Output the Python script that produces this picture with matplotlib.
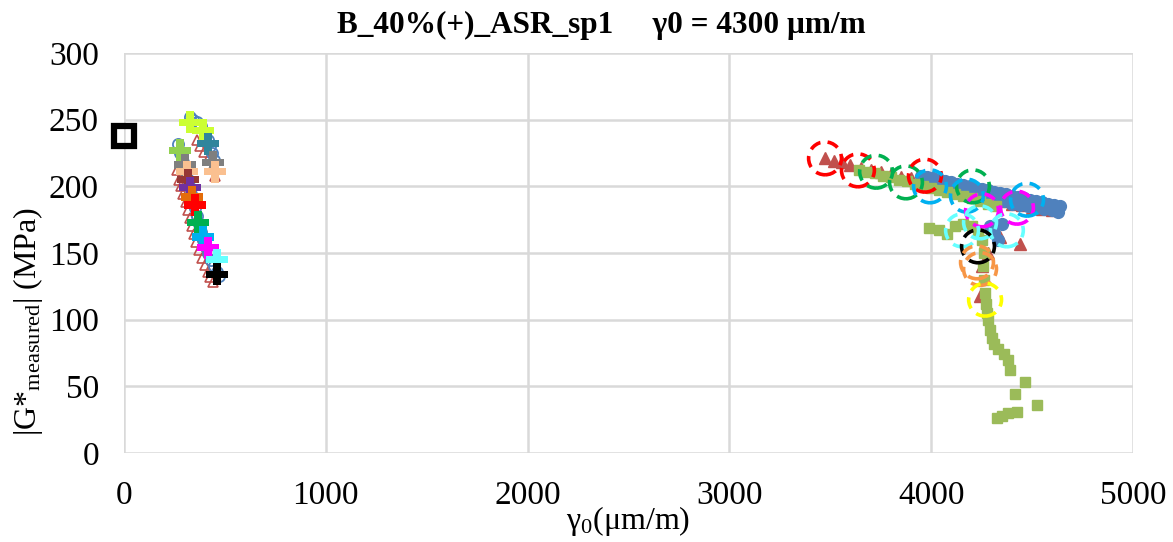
import matplotlib
matplotlib.use("Agg")
import matplotlib.pyplot as plt

plt.rcParams['font.family'] = ['Liberation Serif', 'DejaVu Serif']
plt.rcParams['mathtext.fontset'] = 'custom'
plt.rcParams['mathtext.rm'] = 'Liberation Serif'
plt.rcParams['mathtext.it'] = 'Liberation Serif:italic'

# ---------------- data ----------------
# Blue circles (low strain: hollow)
blue_low_x = [270, 280, 290, 300, 310, 320, 330, 340, 350, 360, 370, 380, 390, 400, 415, 430, 445, 460, 470,
              325, 340, 360, 380, 400, 415, 425, 435, 445]
blue_low_y = [232, 225, 218, 212, 206, 200, 194, 189, 184, 178, 172, 166, 160, 155, 150, 145, 140, 136, 133,
              252, 250, 248, 245, 240, 235, 230, 225, 220]
# Blue circles (high strain: filled)
blue_high_x = [3950, 3980, 4010, 4040, 4070, 4100, 4130, 4160, 4190, 4220, 4250, 4280, 4310, 4340, 4370,
               4400, 4430, 4460, 4490, 4520, 4550, 4580, 4610, 4640,
               3960, 4000, 4040, 4080, 4120, 4160, 4200, 4240, 4280, 4320, 4360, 4400, 4440, 4480, 4520,
               4560, 4600, 4630,
               4290, 4310, 4330, 4350]
blue_high_y = [208, 207, 206, 205, 204, 203, 202, 201, 200, 199, 198, 197, 196, 195, 194,
               193, 192, 191, 190, 189, 188, 187, 186, 185,
               203, 202, 200, 199, 197, 196, 194, 193, 191, 190, 189, 187, 186, 185, 184,
               183, 182, 181,
               170, 165, 160, 172]

# Red triangles (low strain: hollow)
red_low_x = [262, 272, 282, 292, 305, 315, 325, 335, 345, 358, 372, 387, 400, 415, 428, 440,
             360, 375, 395, 420, 440, 450]
red_low_y = [212, 205, 200, 194, 188, 182, 176, 170, 164, 158, 152, 146, 141, 136, 132, 128,
             235, 230, 226, 222, 215, 208]
# Red triangles (high strain: filled)
red_high_x = [3474, 3520, 3560, 3600, 3650, 3700, 3750, 3800, 3850, 3900, 3950, 4000, 4050, 4100,
              4150, 4200, 4250, 4300, 4350, 4400, 4450, 4500, 4550, 4600,
              4300, 4340, 4440, 4280, 4250, 4240]
red_high_y = [221, 219, 218, 216, 214, 212, 211, 209, 207, 206, 204, 202, 200, 198,
              196, 194, 192, 190, 189, 187, 186, 184, 183, 182,
              168, 162, 157, 150, 140, 118]

# Green squares (high strain)
green_x = [3640, 3680, 3720, 3760, 3800, 3840, 3880, 3920, 3960, 4000, 4040, 4080, 4120, 4160, 4200,
           4240, 4280, 4320,
           3990, 4040, 4080, 4120, 4160, 4200, 4230, 4250, 4260, 4255, 4260, 4265, 4270, 4275,
           4280, 4290, 4300, 4310, 4330, 4360, 4380, 4390, 4415, 4465, 4524, 4326, 4350, 4380, 4425]
green_y = [212, 211, 210, 208, 207, 205, 204, 202, 200, 199, 197, 196, 194, 193, 191,
           189, 187, 185,
           169, 167, 164, 170, 172, 170, 165, 160, 150, 140, 130, 120, 112, 105,
           100, 92, 86, 82, 78, 74, 70, 62, 44, 53, 36, 26, 28, 30, 31]

# Plus markers (low strain), one per color
plus_x = [327, 391, 416, 441, 451, 277, 302, 312, 317, 327, 337, 352, 367, 391, 416, 461, 461]
plus_y = [248, 242, 232, 218, 211, 227, 216, 211, 205, 199, 192, 186, 173, 162, 154, 145, 134]
plus_colors = ['#CCFF33', '#CCFF33', '#31859C', '#7F7F7F', '#FAC090', '#92D050', '#7F7F7F',
               '#FAC090', '#953735', '#7030A0', '#E46C0A', '#FF0000', '#00B050', '#00B0F0',
               '#FF00FF', '#66FFFF', '#000000']

# Dashed circles (high strain)
dash_x = [3474, 3637, 3727, 3875, 3969, 3994, 4207, 4177, 4252, 4425, 4475, 4153, 4242, 4375,
          4232, 4227, 4242, 4267]
dash_y = [221, 212, 211, 203, 208, 200, 200, 193, 182, 184, 190, 167, 173, 167,
          155, 143, 138, 115]
dash_colors = ['#FF0000', '#FF0000', '#00B050', '#00B050', '#FF0000', '#00B0F0', '#00B050',
               '#00B0F0', '#FF00FF', '#FF00FF', '#00B0F0', '#66FFFF', '#66FFFF', '#66FFFF',
               '#000000', '#F79646', '#F79646', '#FFFF00']

# Reference point
ref_x = [0]
ref_y = [238]

# ---------------- plot ----------------
fig = plt.figure(figsize=(11.73, 5.42), dpi=100)
ax = fig.add_axes([0.1057, 0.1642, 0.8602, 0.7380])

ax.plot(red_low_x, red_low_y, linestyle='none', marker='^', ms=7, mfc='none', mec='#C0504D', mew=1.2, zorder=3)
ax.plot(red_high_x, red_high_y, linestyle='none', marker='^', ms=8, mfc='#C0504D', mec='#C0504D', zorder=3)
ax.plot(green_x, green_y, linestyle='none', marker='s', ms=7.5, mfc='#9BBB59', mec='#9BBB59', zorder=4)
ax.plot(blue_low_x, blue_low_y, linestyle='none', marker='o', ms=8, mfc='none', mec='#4F81BD', mew=1.3, zorder=4)
ax.plot(blue_high_x, blue_high_y, linestyle='none', marker='o', ms=8.5, mfc='#4F81BD', mec='#4F81BD', zorder=3.5)

ax.scatter(plus_x, plus_y, marker='P', s=250, c=plus_colors, edgecolors='none', zorder=6)
ax.scatter(dash_x, dash_y, marker='o', s=560, facecolors='none', edgecolors=dash_colors,
           linewidths=2.6, linestyles=(0, (3.2, 2.0)), zorder=7)
ax.plot(ref_x, ref_y, linestyle='none', marker='s', ms=15, mfc='none', mec='black', mew=4.5,
        zorder=8, clip_on=False)

ax.set_xlim(0, 5000)
ax.set_ylim(0, 300)
ax.set_xticks(range(0, 5001, 1000))
ax.set_yticks(range(0, 301, 50))
ax.grid(True, color='#D9D9D9', linewidth=1.8)
ax.set_axisbelow(True)
for s in ax.spines.values():
    s.set_visible(False)
ax.tick_params(axis='x', length=0, labelsize=24, pad=20, colors='black')
ax.tick_params(axis='y', length=0, labelsize=24, pad=18, colors='black')

fig.text(601 / 1173, 1 - 25 / 542, 'B_40%(+)_ASR_sp1     γ0 = 4300 μm/m', fontsize=22.5,
         fontweight='bold', ha='center', va='center')
ax.set_xlabel(r'$\mathrm{\gamma_0(\mu m/m)}$', fontsize=23, labelpad=-5)
ax.set_ylabel(r'$|\mathrm{G{*}}_{\mathrm{measured}}|$ (MPa)', fontsize=23)
ax.yaxis.set_label_coords(-0.078, 0.33)

fig.savefig('out.png', dpi=100, facecolor='white')
